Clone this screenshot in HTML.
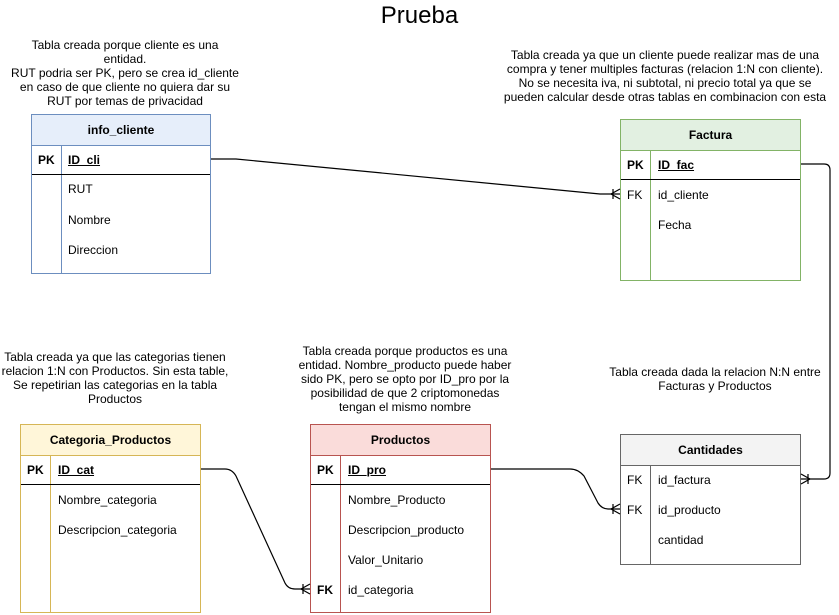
<!DOCTYPE html>
<html><head><meta charset="utf-8"><style>
body{margin:0;width:839px;height:615px;background:#fff;position:relative;font-family:"Liberation Sans",Arial,sans-serif;overflow:hidden}
.t{position:absolute;font-size:12px;color:#000;text-align:center;line-height:14px}
.n{white-space:nowrap}
.tb{position:absolute;border:1.5px solid;box-sizing:border-box}
.h{position:absolute;left:0;right:0;top:0;height:30px;font-weight:bold;font-size:12px;text-align:center;line-height:30px;border-bottom:1.5px solid}
.c{position:absolute;font-size:12px;line-height:14px}
.b{font-weight:bold}
.u{text-decoration:underline}
.d{position:absolute;width:0;border-left:1.5px solid;bottom:0}
.l{position:absolute;height:0;border-top:1.2px solid #000}
</style></head><body>
<div class="t" style="left:0;width:839px;top:2px;font-size:24px;line-height:28px">Prueba</div>
<div class="t n" style="left:0;width:250px;top:38px">Tabla creada porque cliente es una<br>entidad.<br>RUT podria ser PK, pero se crea id_cliente<br>en caso de que cliente no quiera dar su<br>RUT por temas de privacidad</div>
<div class="t n" style="left:495px;width:340px;top:48px">Tabla creada ya que un cliente puede realizar mas de una<br>compra y tener multiples facturas (relacion 1:N con cliente).<br>No se necesita iva, ni subtotal, ni precio total ya que se<br>pueden calcular desde otras tablas en combinacion con esta</div>
<div class="t" style="left:0;width:230px;top:350px">Tabla creada ya que las categorias tienen relacion 1:N con Productos. Sin esta table, Se repetirian las categorias en la tabla Productos</div>
<div class="t" style="left:295px;width:220px;top:344px">Tabla creada porque productos es una entidad. Nombre_producto puede haber sido PK, pero se opto por ID_pro por la posibilidad de que 2 criptomonedas tengan el mismo nombre</div>
<div class="t" style="left:600px;width:230px;top:365px">Tabla creada dada la relacion N:N entre Facturas y Productos</div>

<div class="tb" style="left:31px;top:114px;width:180px;height:160px;border-color:#6c8ebf">
<div class="h" style="background:#e6eefa;border-color:#6c8ebf">info_cliente</div>
<div class="d" style="left:29px;top:30px;border-color:#6c8ebf"></div>
<div class="l" style="left:0;right:0;top:59px"></div>
<div class="c b" style="left:6px;top:38px">PK</div><div class="c b u" style="left:36px;top:38px">ID_cli</div>
<div class="c" style="left:36px;top:67px">RUT</div><div class="c" style="left:36px;top:98px">Nombre</div><div class="c" style="left:36px;top:128px">Direccion</div>
</div>
<div class="tb" style="left:620px;top:119px;width:181px;height:162px;border-color:#82b366">
<div class="h" style="background:#e2f0e1;border-color:#82b366">Factura</div>
<div class="d" style="left:29px;top:30px;border-color:#82b366"></div>
<div class="l" style="left:0;right:0;top:59px"></div>
<div class="c b" style="left:6px;top:38px">PK</div><div class="c b u" style="left:37px;top:38px">ID_fac</div>
<div class="c" style="left:6px;top:68px">FK</div><div class="c" style="left:37px;top:68px">id_cliente</div>
<div class="c" style="left:37px;top:98px">Fecha</div>
</div>
<div class="tb" style="left:20px;top:424px;width:181px;height:189px;border-color:#d6b656">
<div class="h" style="background:#fff6d9;border-color:#d6b656">Categoria_Productos</div>
<div class="d" style="left:29px;top:30px;border-color:#d6b656"></div>
<div class="l" style="left:0;right:0;top:59px"></div>
<div class="c b" style="left:6px;top:38px">PK</div><div class="c b u" style="left:37px;top:38px">ID_cat</div>
<div class="c" style="left:37px;top:68px">Nombre_categoria</div>
<div class="c" style="left:37px;top:98px">Descripcion_categoria</div>
</div>
<div class="tb" style="left:310px;top:424px;width:181px;height:189px;border-color:#b85450">
<div class="h" style="background:#fadcda;border-color:#b85450">Productos</div>
<div class="d" style="left:29px;top:30px;border-color:#b85450"></div>
<div class="l" style="left:0;right:0;top:59px"></div>
<div class="c b" style="left:6px;top:38px">PK</div><div class="c b u" style="left:37px;top:38px">ID_pro</div>
<div class="c" style="left:37px;top:68px">Nombre_Producto</div>
<div class="c" style="left:37px;top:98px">Descripcion_producto</div>
<div class="c" style="left:37px;top:128px">Valor_Unitario</div>
<div class="c b" style="left:6px;top:158px">FK</div><div class="c" style="left:37px;top:158px">id_categoria</div>
</div>
<div class="tb" style="left:620px;top:434px;width:181px;height:131px;border-color:#666">
<div class="h" style="background:#f3f3f3;border-color:#666">Cantidades</div>
<div class="d" style="left:29px;top:30px;border-color:#666"></div>
<div class="c" style="left:6px;top:38px">FK</div><div class="c" style="left:37px;top:38px">id_factura</div>
<div class="c" style="left:6px;top:68px">FK</div><div class="c" style="left:37px;top:68px">id_producto</div>
<div class="c" style="left:37px;top:98px">cantidad</div>
</div>

<svg width="839" height="615" style="position:absolute;left:0;top:0" fill="none" stroke="#000" stroke-width="1.2">
<path d="M211 159 L236 159 L600 194 L620 194"/>
<path d="M613 189 V199 M620 189 L611 194 L620 199"/>
<path d="M801 164 H824 Q830 164 830 170 V473 Q830 479 824 479 H801"/>
<path d="M808 474 V484 M801 474 L810 479 L801 484"/>
<path d="M201 469 H225 Q232 469 236 476 L285 583 Q288 589 295 589 H310"/>
<path d="M303 584 V594 M310 584 L301 589 L310 594"/>
<path d="M491 469 H570 Q578 469 584 476 L598 503 Q602 509 608 509 H620"/>
<path d="M613 504 V514 M620 504 L611 509 L620 514"/>
</svg>
</body></html>
